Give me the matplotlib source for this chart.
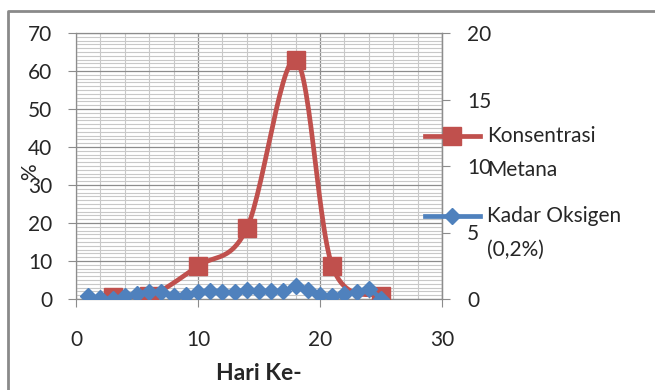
import numpy as np
import matplotlib
matplotlib.use("Agg")
import matplotlib.pyplot as plt
from matplotlib.lines import Line2D
from matplotlib.ticker import MultipleLocator

# ---- data ----
metana_x = [3, 6, 10, 14, 18, 21, 25]
metana_y = [0.5, 0.7, 8.7, 18.6, 62.9, 8.7, 0.8]

oksigen_x = list(range(1, 26))
oksigen_y = [0.22, 0.08, 0.0, 0.25, 0.38, 0.55, 0.5, 0.25, 0.28, 0.52,
             0.62, 0.56, 0.5, 0.7, 0.6, 0.6, 0.6, 0.95, 0.7, 0.28,
             0.2, 0.38, 0.52, 0.72, 0.0]

label_metana = ["Konsentrasi", "Metana"]
label_oksigen = ["Kadar Oksigen", "(0,2%)"]
x_label = "Hari Ke-"
y_label = "%"
left_ticks = [0, 10, 20, 30, 40, 50, 60, 70]
right_ticks = [0, 5, 10, 15, 20]
x_ticks = [0, 10, 20, 30]

RED = "#C0504D"
BLUE = "#4F81BD"
TXT = "#262626"
FONT = "Lato"


def smooth(x, y, n=30):
    p = np.column_stack([x, y]).astype(float)
    pp = np.vstack([p[0], p, p[-1]])
    out = []
    t = np.linspace(0, 1, n)[:, None]
    for i in range(1, len(pp) - 2):
        p0, p1, p2, p3 = pp[i - 1], pp[i], pp[i + 1], pp[i + 2]
        c1 = p1 + (p2 - p0) / 6.0
        c2 = p2 - (p3 - p1) / 6.0
        seg = ((1 - t) ** 3) * p1 + 3 * ((1 - t) ** 2) * t * c1 + 3 * (1 - t) * t ** 2 * c2 + t ** 3 * p2
        out.append(seg if i == 1 else seg[1:])
    s = np.vstack(out)
    return s[:, 0], s[:, 1]


plt.rcParams['font.family'] = [FONT, 'DejaVu Sans']

W, H = 655, 390
fig = plt.figure(figsize=(W / 100, H / 100), dpi=100)
L, R, T, B = 76, 442, 33, 299
ax = fig.add_axes([L / W, 1 - B / H, (R - L) / W, (B - T) / H])
ax.set_xlim(0, 30)
ax.set_ylim(0, 70)

# grid
ax.xaxis.set_major_locator(MultipleLocator(10))
ax.xaxis.set_minor_locator(MultipleLocator(2))
ax.yaxis.set_major_locator(MultipleLocator(10))
ax.yaxis.set_minor_locator(MultipleLocator(1))
ax.set_xticks(x_ticks)
ax.set_yticks(left_ticks)
ax.grid(which='major', color='#8C8C8C', linewidth=0.9)
ax.grid(which='minor', color='#C8C8C8', linewidth=0.8)
ax.set_axisbelow(True)
for s in ax.spines.values():
    s.set_color('#8C8C8C')
    s.set_linewidth(0.9)

ax.tick_params(axis='both', which='minor', length=0)
ax.tick_params(axis='x', which='major', direction='out', length=6, color='#8C8C8C',
               labelsize=15, labelcolor=TXT, pad=16)
ax.tick_params(axis='y', which='major', direction='out', length=6, color='#8C8C8C',
               labelsize=15, labelcolor=TXT, pad=11)

sx, sy = smooth(metana_x, metana_y)
ax.plot(sx, sy, color=RED, linewidth=3.4, solid_capstyle='round', zorder=3)
ax.plot(metana_x, metana_y, linestyle='none', marker='s', markersize=13.5,
        color=RED, markeredgecolor=RED, zorder=4)

ax2 = ax.twinx()
ax2.set_ylim(0, 20)
ax2.set_yticks(right_ticks)
ax2.tick_params(axis='y', direction='out', length=6, color='#8C8C8C',
                labelsize=15, labelcolor=TXT, pad=12)
for s in ax2.spines.values():
    s.set_visible(False)
ax2.spines['right'].set_visible(True)
ax2.spines['right'].set_color('#8C8C8C')
ax2.spines['right'].set_linewidth(0.9)

bx, by = smooth(oksigen_x, oksigen_y)
ax2.plot(bx, by, color=BLUE, linewidth=3.4, zorder=3)
ax2.plot(oksigen_x, oksigen_y, linestyle='none', marker='D', markersize=8.6,
         color=BLUE, markeredgecolor=BLUE, zorder=4)

# axis titles
fig.text((L + R) / 2 / W, 1 - 374 / H, x_label, ha='center', va='center',
         fontsize=16.5, fontweight='bold', color=TXT)
fig.text(30 / W, 1 - 172 / H, y_label, ha='center', va='center', rotation=90,
         fontsize=15, color=TXT)

# legend (manual, Excel style: handle aligned with first text line)
def legend_entry(y_px, color, marker, ms, lines):
    fig.add_artist(Line2D([425 / W, 480 / W], [1 - y_px / H] * 2, transform=fig.transFigure,
                          color=color, linewidth=3.4))
    fig.add_artist(Line2D([452 / W], [1 - y_px / H], transform=fig.transFigure,
                          color=color, marker=marker, markersize=ms, linestyle='none'))
    for k, line in enumerate(lines):
        fig.text(487 / W, 1 - (y_px + 34 * k) / H, line, ha='left', va='center',
                 fontsize=15, color=TXT)

legend_entry(136, RED, 's', 12.5, label_metana)
legend_entry(216, BLUE, 'D', 8.6, label_oksigen)

# chart border
fig.add_artist(Line2D([8 / W, 8 / W, 1.0], [0.0, 1 - 11 / H, 1 - 11 / H], transform=fig.transFigure,
                      color='#8A8A8A', linewidth=2.0))

fig.savefig("out.png", dpi=100)
